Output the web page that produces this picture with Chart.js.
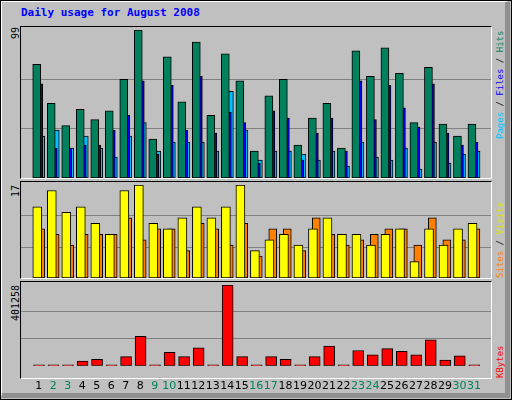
<!DOCTYPE html>
<html>
<head>
<meta charset="UTF-8">
<title>Daily usage for August 2008</title>
<script src="https://cdn.jsdelivr.net/npm/chart.js"></script>
<style>
  body { margin: 0; background: #c0c0c0; }
  #wrap { position: relative; width: 510px; height: 398px; background: #c0c0c0; border: 1px solid #000; overflow: hidden;
          font-family: "DejaVu Sans Mono", monospace; }
  #wrap:after { content: ""; position: absolute; left: 0; top: 0; width: 503px; height: 391px;
          border-top: 1px solid #fff; border-left: 1px solid #fff; border-right: 5px solid #909090; border-bottom: 5px solid #909090; pointer-events: none; }
  .title { position: absolute; left: 20px; top: 5px; color: #0000ff; font-weight: bold; font-size: 11px; }
  .panel { position: absolute; left: 19px; width: 470px; border-top: 1px solid #000; border-left: 1px solid #000;
           border-right: 1px solid #fff; border-bottom: 1px solid #fff; }
  canvas { position: absolute; }
  .up { position: absolute; transform-origin: left top; transform: rotate(-90deg); white-space: nowrap; font-size: 9px; line-height: 11px; }
  .lt { font-size: 10px; }
</style>
</head>
<body>
<div id="wrap">
  <div class="title">Daily usage for August 2008</div>
  <div class="panel" style="top:25px;height:151px"></div>
  <div class="panel" style="top:180px;height:96px"></div>
  <div class="panel" style="top:280px;height:96px"></div>
  <canvas id="c1" style="left:20px;top:26px" width="470" height="151"></canvas>
  <canvas id="c2" style="left:20px;top:181px" width="470" height="96"></canvas>
  <canvas id="c3" style="left:20px;top:281px" width="470" height="117"></canvas>
  <div class="up lt" style="left:9px;top:38px">99</div>
  <div class="up lt" style="left:9px;top:196px">17</div>
  <div class="up lt" style="left:9px;top:320px">401258</div>
  <div class="up" style="left:494px;top:138px"><span style="color:#00c0ff">Pages</span> / <span style="color:#0000ff">Files</span> / <span style="color:#00805c">Hits</span></div>
  <div class="up" style="left:494px;top:277px"><span style="color:#ff8000">Sites</span> / <span style="color:#e0e000">Visits</span></div>
  <div class="up" style="left:494px;top:377px;color:#ff0000">KBytes</div>
</div>
<script>
const days = [1,2,3,4,5,6,7,8,9,10,11,12,13,14,15,16,17,18,19,20,21,22,23,24,25,26,27,28,29,30,31];
const weekend = [2,3,9,10,16,17,23,24,30,31];
const hits  = [76,50,35,46,39,45,66,99,26,81,51,91,42,83,65,18,55,66,22,40,50,20,85,68,87,70,37,74,36,28,36];
const files = [63,20,20,22,22,32,42,65,16,62,32,68,30,44,37,10,45,40,12,30,40,18,65,39,62,47,34,63,30,22,24];
const pages = [28,32,20,28,20,14,28,37,18,24,24,24,18,58,32,12,18,18,16,12,18,8,24,14,12,20,6,24,10,16,18];
const visits = [13,16,12,13,10,8,16,17,10,9,11,13,11,13,17,5,7,8,6,9,11,8,8,6,8,9,3,9,6,9,10];
const sites  = [9,8,6,8,8,8,11,7,9,9,5,10,9,6,10,4,9,9,5,11,8,6,7,8,9,9,6,11,7,7,9];
const kbytes = [5000,5000,5000,23400,32200,5000,45400,146400,5000,67400,45400,89300,5000,401258,45400,5000,45400,32200,5000,45400,98100,5000,76100,54200,84900,71800,54200,128900,27800,49800,5000];
const maxes = [99, 17, 401258];

Chart.defaults.font.family = '"DejaVu Sans", sans-serif';

function ds(values, shift, color, width) {
  return {
    data: values.map((v, i) => ({ x: days[i] + shift, y: v })),
    backgroundColor: color, borderColor: '#000', borderWidth: 1,
    barThickness: width, grouped: false, borderSkipped: false
  };
}

function makeChart(id, datasets, max, showDays) {
  new Chart(document.getElementById(id), {
    type: 'bar',
    data: { datasets: datasets },
    options: {
      responsive: false, animation: false, devicePixelRatio: 1,
      layout: { padding: { top: 3, left: 0, right: 0, bottom: 0 } },
      plugins: { legend: { display: false }, tooltip: { enabled: false } },
      scales: {
        x: {
          type: 'linear', min: 0.3, max: 31.65, display: showDays,
          grid: { display: false }, border: { display: false },
          afterBuildTicks: s => { s.ticks = days.map(d => ({ value: d })); },
          ticks: {
            autoSkip: false, maxRotation: 0, padding: 6,
            font: { size: 11 },
            color: c => weekend.includes(c.tick.value) ? '#00805c' : '#000'
          }
        },
        y: {
          min: 0, max: max,
          grid: { color: '#808080', drawTicks: false }, border: { display: false },
          afterBuildTicks: s => { s.ticks = [{ value: max / 3 }, { value: max * 2 / 3 }]; },
          ticks: { display: false }
        }
      }
    }
  });
}

// later datasets are drawn on top
makeChart('c1', [
  ds(hits, -0.14, '#00805c', 8),
  ds(files, 0, '#0000ff', 8),
  ds(pages, 0.14, '#00c0ff', 8)
], maxes[0], false);
makeChart('c2', [
  ds(visits, -0.1, '#ffff00', 9),
  ds(sites, 0.13, '#ff8000', 8)
], maxes[1], false);
makeChart('c3', [
  ds(kbytes, 0.02, '#ff0000', 11)
], maxes[2], true);
</script>
</body>
</html>
